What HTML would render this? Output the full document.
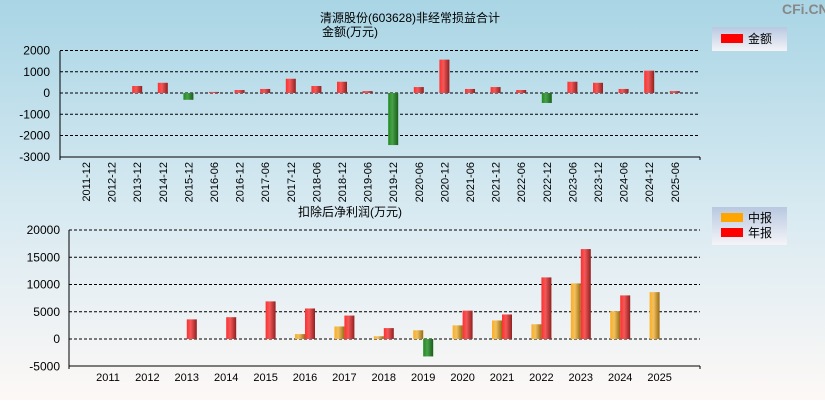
<!DOCTYPE html>
<html><head><meta charset="utf-8"><style>
body{margin:0;width:825px;height:400px;overflow:hidden;font-family:"Liberation Sans","Noto Sans CJK SC",sans-serif}
</style></head><body>
<svg id="c" width="825" height="400" xmlns="http://www.w3.org/2000/svg" style="font-family:'Liberation Sans','Noto Sans CJK SC',sans-serif">
<defs>
<linearGradient id="bg" x1="0" y1="0" x2="0" y2="1"><stop offset="0" stop-color="#a9d5e5"/><stop offset="0.5" stop-color="#d6e9f1"/><stop offset="1" stop-color="#fdf8f6"/></linearGradient>
<linearGradient id="gr" x1="0" x2="1"><stop offset="0" stop-color="#ff3030"/><stop offset="0.4" stop-color="#f45858"/><stop offset="1" stop-color="#902020"/></linearGradient>
<linearGradient id="gg" x1="0" x2="1"><stop offset="0" stop-color="#1e8a1e"/><stop offset="0.4" stop-color="#4aa04a"/><stop offset="1" stop-color="#185f18"/></linearGradient>
<linearGradient id="go" x1="0" x2="1"><stop offset="0" stop-color="#ffae20"/><stop offset="0.4" stop-color="#f0c060"/><stop offset="1" stop-color="#9a6a10"/></linearGradient>
<linearGradient id="lg" x1="0" y1="0" x2="0" y2="1"><stop offset="0" stop-color="#b8c8e0"/><stop offset="1" stop-color="#f4f4f8"/></linearGradient>
</defs>
<rect width="825" height="400" fill="url(#bg)"/>
<text x="782" y="14" font-size="14" font-weight="bold" fill="#888">CFi.CN</text>
<text x="410" y="22" font-size="12" text-anchor="middle">清源股份(603628)非经常损益合计</text>
<text x="350" y="36" font-size="12" text-anchor="middle">金额(万元)</text>
<rect x="712" y="27" width="75" height="24" fill="url(#lg)"/>
<rect x="721" y="34" width="22" height="9" fill="#f00"/>
<text x="748" y="43" font-size="12">金额</text>
<text x="350" y="216" font-size="12" text-anchor="middle">扣除后净利润(万元)</text>
<rect x="712" y="207" width="75" height="38" fill="url(#lg)"/>
<rect x="721" y="213" width="22" height="9" fill="#ffa500"/>
<text x="748" y="222" font-size="12">中报</text>
<rect x="721" y="228" width="22" height="9" fill="#f00"/>
<text x="748" y="237" font-size="12">年报</text>
<g id="top"></g><g id="bot"></g>
</svg>
<script>
const topCats=["2011-12","2012-12","2013-12","2014-12","2015-12","2016-06","2016-12","2017-06","2017-12","2018-06","2018-12","2019-06","2019-12","2020-06","2020-12","2021-06","2021-12","2022-06","2022-12","2023-06","2023-12","2024-06","2024-12","2025-06"];
const topVals=[null,null,330,480,-320,50,140,190,670,330,530,90,-2450,280,1570,190,280,140,-470,530,480,190,1050,90];
const topTicks=[2000,1000,0,-1000,-2000,-3000];
const botCats=["2011","2012","2013","2014","2015","2016","2017","2018","2019","2020","2021","2022","2023","2024","2025"];
const botMid=[null,null,null,null,null,900,2300,500,1600,2500,3400,2700,10200,5100,8600];
const botAnnual=[null,null,3600,4000,6900,5600,4300,2000,-3200,5200,4500,11300,16500,8000,null];
const botTicks=[20000,15000,10000,5000,0,-5000];
const NS="http://www.w3.org/2000/svg";
function mk(p,t,a){const e=document.createElementNS(NS,t);for(const k in a)e.setAttribute(k,a[k]);p.appendChild(e);return e;}
// top chart
const T=document.getElementById('top');
const ty=v=>93-v*0.02125, tx=i=>86+i*25.6;
topTicks.forEach(v=>{
 if(v>-3000){const l=mk(T,'line',{x1:60,x2:700,y1:ty(v),y2:ty(v),stroke:'#000','stroke-dasharray':'3,2'});
 
 }
 const t=mk(T,'text',{x:50,y:ty(v)+4,'font-size':12,'text-anchor':'end'});t.textContent=v;
 
 
});
let a=mk(T,'line',{x1:60,x2:60,y1:51,y2:160,stroke:'#000'});
a=mk(T,'line',{x1:60,x2:700,y1:157,y2:157,stroke:'#000'});
topCats.forEach((c,i)=>{
 const x=tx(i);
 const t=mk(T,'text',{x:0,y:0,'font-size':11,'text-anchor':'end',transform:`translate(${x+4},162) rotate(-90)`});t.textContent=c;
 
 
 const v=topVals[i]; if(v==null)return;
 const y0=ty(0),y1=ty(v);
 const r=mk(T,'rect',{x:x-5,y:Math.min(y0,y1),width:10,height:Math.max(1,Math.abs(y1-y0)),fill:v>=0?'url(#gr)':'url(#gg)'});
 
 
});
a=mk(T,'line',{x1:700,x2:700,y1:157,y2:160,stroke:'#000'});
// bottom chart
const B=document.getElementById('bot');
const by=v=>339-v*0.00545, bx=i=>108+i*39.4;
botTicks.forEach(v=>{
 if(v>-5000){const l=mk(B,'line',{x1:69,x2:700,y1:by(v),y2:by(v),stroke:'#000','stroke-dasharray':'3,2'});
 
 }
 const t=mk(B,'text',{x:60,y:by(v)+4,'font-size':12,'text-anchor':'end'});t.textContent=v;
 
 
});
a=mk(B,'line',{x1:69,x2:69,y1:230,y2:369,stroke:'#000'});
a=mk(B,'line',{x1:69,x2:700,y1:366,y2:366,stroke:'#000'});
mk(B,'line',{x1:700,x2:700,y1:366,y2:369,stroke:'#000'});
botCats.forEach((c,i)=>{
 const x=bx(i);
 const t=mk(B,'text',{x:x,y:381,'font-size':11,'text-anchor':'middle'});t.textContent=c;
 
 
 const y0=by(0);
 const m=botMid[i];
 if(m!=null){const y1=by(m);const r=mk(B,'rect',{x:x-10,y:Math.min(y0,y1),width:10,height:Math.abs(y1-y0),fill:m>=0?'url(#go)':'url(#gg)'});
  
  }
 const n=botAnnual[i];
 if(n!=null){const y1=by(n);const r=mk(B,'rect',{x:x,y:Math.min(y0,y1),width:10,height:Math.abs(y1-y0),fill:n>=0?'url(#gr)':'url(#gg)'});
  
  }
});
</script>
</body></html>
